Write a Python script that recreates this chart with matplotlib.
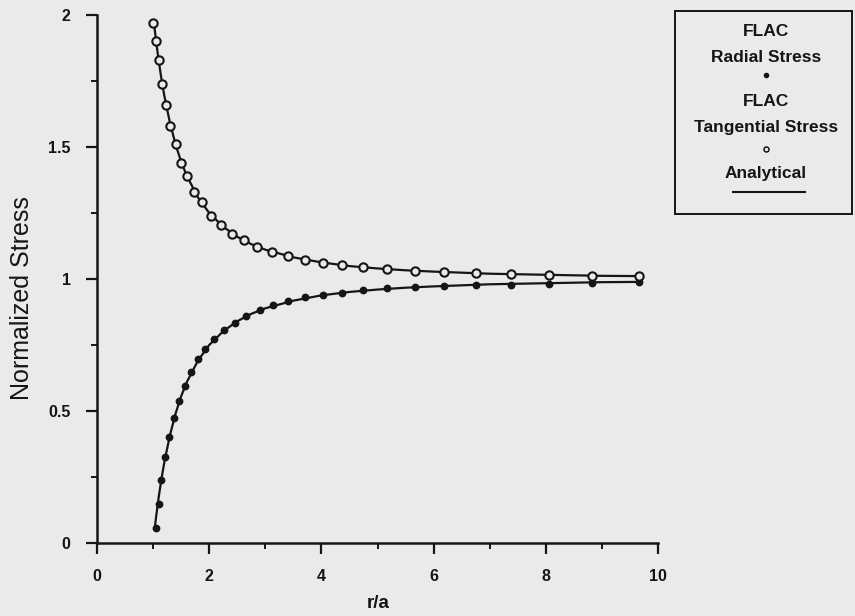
import matplotlib
matplotlib.use("Agg")
import matplotlib.pyplot as plt
from matplotlib.lines import Line2D
from matplotlib.patches import Rectangle

# ---- data ----
r_radial = [1.05, 1.10, 1.14, 1.21, 1.28, 1.37, 1.46, 1.57, 1.68, 1.80, 1.93,
            2.09, 2.27, 2.46, 2.66, 2.90, 3.14, 3.40, 3.70, 4.02, 4.37, 4.74,
            5.17, 5.66, 6.19, 6.76, 7.38, 8.06, 8.83, 9.66]
s_radial = [0.056, 0.149, 0.240, 0.326, 0.401, 0.474, 0.536, 0.595, 0.649, 0.696,
            0.735, 0.773, 0.806, 0.835, 0.859, 0.882, 0.902, 0.916, 0.930, 0.939,
            0.948, 0.958, 0.965, 0.970, 0.974, 0.976, 0.977, 0.980, 0.985, 0.990]

r_tangential = [1.00, 1.05, 1.10, 1.16, 1.23, 1.31, 1.40, 1.50, 1.61, 1.73, 1.87,
                2.03, 2.21, 2.41, 2.62, 2.86, 3.12, 3.40, 3.70, 4.02, 4.37, 4.74,
                5.17, 5.66, 6.19, 6.76, 7.38, 8.06, 8.83, 9.66]
s_tangential = [1.97, 1.90, 1.83, 1.74, 1.66, 1.58, 1.51, 1.44, 1.39, 1.33, 1.29,
                1.24, 1.205, 1.172, 1.146, 1.122, 1.103, 1.087, 1.073, 1.062, 1.052,
                1.045, 1.037, 1.031, 1.026, 1.022, 1.018, 1.015, 1.013, 1.011]

r_analytic_radial = [1.03, 1.05, 1.1, 1.15, 1.2, 1.3, 1.4, 1.5, 1.6, 1.8, 2.0, 2.25,
                     2.5, 2.75, 3.0, 3.5, 4.0, 4.5, 5.0, 5.5, 6.0, 7.0, 8.0, 9.0, 9.66]
s_analytic_radial = [0.057, 0.093, 0.174, 0.244, 0.306, 0.408, 0.490, 0.556, 0.609,
                     0.691, 0.750, 0.802, 0.840, 0.868, 0.889, 0.918, 0.938, 0.951,
                     0.960, 0.967, 0.972, 0.980, 0.984, 0.988, 0.989]
r_analytic_tangential = [1.01, 1.05, 1.1, 1.15, 1.2, 1.3, 1.4, 1.5, 1.6, 1.8, 2.0, 2.25,
                         2.5, 2.75, 3.0, 3.5, 4.0, 4.5, 5.0, 5.5, 6.0, 7.0, 8.0, 9.0, 9.66]
s_analytic_tangential = [1.98, 1.907, 1.826, 1.756, 1.694, 1.592, 1.510, 1.444, 1.391,
                         1.309, 1.250, 1.198, 1.160, 1.132, 1.111, 1.082, 1.063, 1.049,
                         1.040, 1.033, 1.028, 1.020, 1.016, 1.012, 1.011]

x_ticks = [0, 2, 4, 6, 8, 10]
x_minor = [1, 3, 5, 7, 9]
y_ticks = [0, 0.5, 1, 1.5, 2]
y_tick_labels = ["0", "0.5", "1", "1.5", "2"]
y_minor = [0.25, 0.75, 1.25, 1.75]

bg = "#eaeaea"
ink = "#151515"
font = "Liberation Sans"

W, H = 855, 616
fig = plt.figure(figsize=(W / 100, H / 100), dpi=100, facecolor=bg)
# axes: x=0 at px 97, x=10 at px 658; y=0 at px 543, y=2 at px 15
ax = fig.add_axes([97 / W, 1 - 543 / H, 561 / W, 528 / H], facecolor=bg)

ax.plot(r_analytic_tangential, s_analytic_tangential, color=ink, lw=1.6, clip_on=False)
ax.plot(r_analytic_radial, s_analytic_radial, color=ink, lw=1.6, clip_on=False)
ax.plot(r_radial, s_radial, "o", ms=4.6, color=ink, mec=ink, clip_on=False)
ax.plot(r_tangential, s_tangential, "o", ms=6.0, mfc=bg, mec=ink, mew=1.5, clip_on=False)

ax.set_xlim(0, 10)
ax.set_ylim(0, 2)
for s in ["top", "right"]:
    ax.spines[s].set_visible(False)
for s in ["left", "bottom"]:
    ax.spines[s].set_color(ink)
    ax.spines[s].set_linewidth(1.8)

ax.set_xticks(x_ticks)
ax.set_xticks(x_minor, minor=True)
ax.set_yticks(y_ticks)
ax.set_yticklabels(y_tick_labels)
ax.set_yticks(y_minor, minor=True)
ax.tick_params(axis="both", which="major", direction="out", length=8, width=1.6,
               color=ink, labelcolor=ink, labelsize=11.5)
ax.tick_params(axis="x", which="major", pad=11)
ax.tick_params(axis="y", which="major", pad=11)
ax.tick_params(axis="both", which="minor", direction="out", length=4, width=1.4, color=ink)
for lab in ax.get_xticklabels() + ax.get_yticklabels():
    lab.set_fontweight("bold")
    lab.set_family(font)

fig.text(378 / W, 1 - 603 / H, "r/a", ha="center", va="center", fontsize=13.5,
         fontweight="bold", color=ink, family=font)
fig.text(22 / W, 1 - 298 / H, "Normalized Stress", ha="center", va="center",
         rotation=90, fontsize=18, color=ink, family=font)

# ---- legend box ----
def fx(px):
    return px / W

def fy(py):
    return 1 - py / H

fig.add_artist(Rectangle((fx(675), fy(214)), fx(852) - fx(675), fy(11) - fy(214),
                         transform=fig.transFigure, fill=False, ec=ink, lw=1.4))
cx = fx(766)
items = [("FLAC", 32), ("Radial Stress", 58), ("FLAC", 102), ("Tangential Stress", 127),
         ("Analytical", 173)]
for txt, py in items:
    fig.text(cx, fy(py), txt, ha="center", va="center", fontsize=12.5,
             fontweight="bold", color=ink, family=font)
fig.add_artist(Line2D([cx], [fy(75)], marker="o", ms=3, color=ink, mec=ink,
                      transform=fig.transFigure))
fig.add_artist(Line2D([cx], [fy(149)], marker="o", ms=3.6, mfc=bg, mec=ink, mew=1.1,
                      transform=fig.transFigure))
fig.add_artist(Line2D([fx(733), fx(805)], [fy(192), fy(192)], color=ink, lw=1.5,
                      transform=fig.transFigure))

fig.savefig("out.png", dpi=100, facecolor=bg)
